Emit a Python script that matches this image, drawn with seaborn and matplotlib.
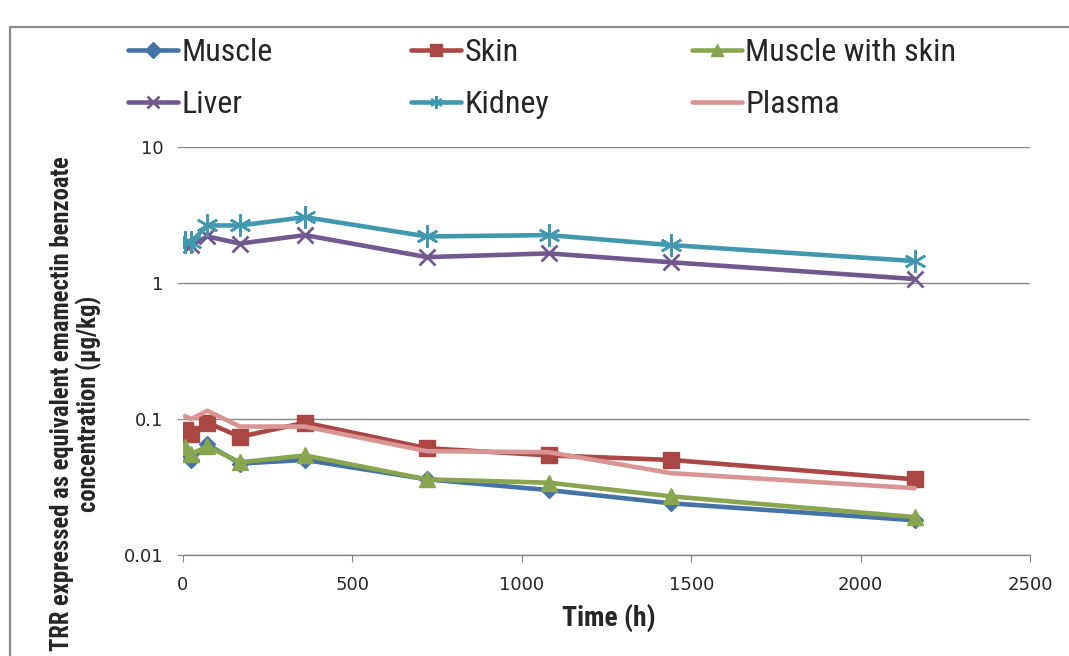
import matplotlib
matplotlib.use("Agg")
import matplotlib.pyplot as plt
import matplotlib.ticker as mticker
from matplotlib import font_manager
from matplotlib.lines import Line2D
import seaborn as sns

# residue data (log scale, ug/kg)
time_h = [6, 24, 72, 168, 360, 720, 1080, 1440, 2160]
muscle = [0.058, 0.050, 0.065, 0.047, 0.050, 0.036, 0.030, 0.024, 0.018]
skin = [0.083, 0.077, 0.094, 0.074, 0.094, 0.061, 0.054, 0.050, 0.036]
muscle_skin = [0.062, 0.055, 0.063, 0.048, 0.054, 0.036, 0.034, 0.027, 0.019]
liver = [1.95, 1.90, 2.20, 1.95, 2.25, 1.55, 1.65, 1.42, 1.07]
kidney = [2.00, 2.00, 2.65, 2.65, 3.05, 2.20, 2.25, 1.90, 1.45]
plasma = [0.105, 0.100, 0.115, 0.088, 0.088, 0.058, 0.057, 0.040, 0.031]

x_ticks = [0, 500, 1000, 1500, 2000, 2500]
y_ticks = [0.01, 0.1, 1, 10]


def have_font(name):
    try:
        font_manager.findfont(font_manager.FontProperties(family=name), fallback_to_default=False)
        return True
    except ValueError:
        return False


narrow = "Liberation Sans"
for cand in ["Liberation Sans Narrow", "DejaVu Sans Condensed", "Roboto Condensed", "Open Sans Condensed"]:
    if have_font(cand):
        narrow = cand
        break

sns.set_style("white")
plt.rcParams["font.family"] = ["DejaVu Sans"]

W, H = 1069, 656
fig = plt.figure(figsize=(W / 100, H / 100), dpi=100)
ax = fig.add_axes([183 / W, 1 - 555 / H, (1030 - 183) / W, (555 - 147) / H])

series = [
    ("Muscle", muscle, "#4572A7", "D", 8, 1),
    ("Skin", skin, "#AA4643", "s", 11, 1),
    ("Muscle with skin", muscle_skin, "#89A54E", "^", 12, 1),
    ("Liver", liver, "#71588F", "x", 11, 2),
    ("Kidney", kidney, "#4198AF", (6, 2, 0), 16, 1.8),
    ("Plasma", plasma, "#D89593", None, 0, 0),
]
for name, vals, col, mk, ms, mew in series:
    kw = dict(marker=mk, markersize=ms, markeredgewidth=mew,
              markerfacecolor=col, markeredgecolor=col) if mk else {}
    sns.lineplot(x=time_h, y=vals, ax=ax, color=col, lw=3.3, label=name, **kw)

ax.set_yscale("log")
ax.set_ylim(0.01, 10)
ax.set_xlim(0, 2500)
ax.set_xticks(x_ticks)
ax.set_yticks(y_ticks)
ax.yaxis.set_major_formatter(mticker.FuncFormatter(lambda v, p: f"{v:g}"))
ax.yaxis.set_minor_locator(mticker.NullLocator())
ax.grid(axis="y", color="#868686", lw=1.0)
ax.grid(axis="x", visible=False)
for s in ["top", "right", "left"]:
    ax.spines[s].set_visible(False)
ax.spines["bottom"].set_color("#868686")
ax.spines["bottom"].set_linewidth(1.0)
ax.tick_params(axis="y", length=4, color="#868686", pad=10, labelsize=13, left=True)
ax.tick_params(axis="x", length=5, color="#868686", pad=10, labelsize=13, bottom=True, direction="out")
ax.set_xlabel("")
ax.set_ylabel("")

# legend: three columns of two rows
handles = dict(zip(*reversed(ax.get_legend_handles_labels())))
if ax.get_legend():
    ax.get_legend().remove()
columns = [(["Muscle", "Liver"], 128), (["Skin", "Kidney"], 411), (["Muscle with skin", "Plasma"], 692)]
lprop = font_manager.FontProperties(family=narrow, size=23)
for labs, xpx in columns:
    leg = fig.legend([handles[l] for l in labs], labs, loc="upper left",
                     bbox_to_anchor=(xpx / W, 1 - 38 / H), frameon=False, prop=lprop,
                     handlelength=1.55, handletextpad=0.12, labelspacing=0.72,
                     borderpad=0, borderaxespad=0)
    for h in leg.legend_handles:
        h.set_markersize(min(h.get_markersize(), 9))

# axis titles
fig.text(609 / W, 1 - 618 / H, "Time (h)", ha="center", va="center",
         fontsize=20, fontweight="bold", family=narrow)
ylab1 = "TRR expressed as equivalent emamectin benzoate"
ylab2 = "concentration (µg/kg)"
probe = fig.text(0, 0, ylab1, fontsize=15, fontweight="bold", family=narrow)
fig.canvas.draw()
ysize = 15 * 496 / probe.get_window_extent().width
probe.remove()
fig.text(76 / W, 1 - 404 / H, ylab1 + "\n" + ylab2, rotation=90, ha="center", va="center",
         multialignment="center", fontsize=ysize, fontweight="bold", family=narrow, linespacing=1.05)

# outer chart frame
fig.add_artist(Line2D([10 / W, 10 / W], [0, 1 - 27 / H], color="#8a8a8a", lw=1.6))
fig.add_artist(Line2D([10 / W, 1], [1 - 27 / H, 1 - 27 / H], color="#8a8a8a", lw=1.6))

fig.savefig("out.png", dpi=100)
